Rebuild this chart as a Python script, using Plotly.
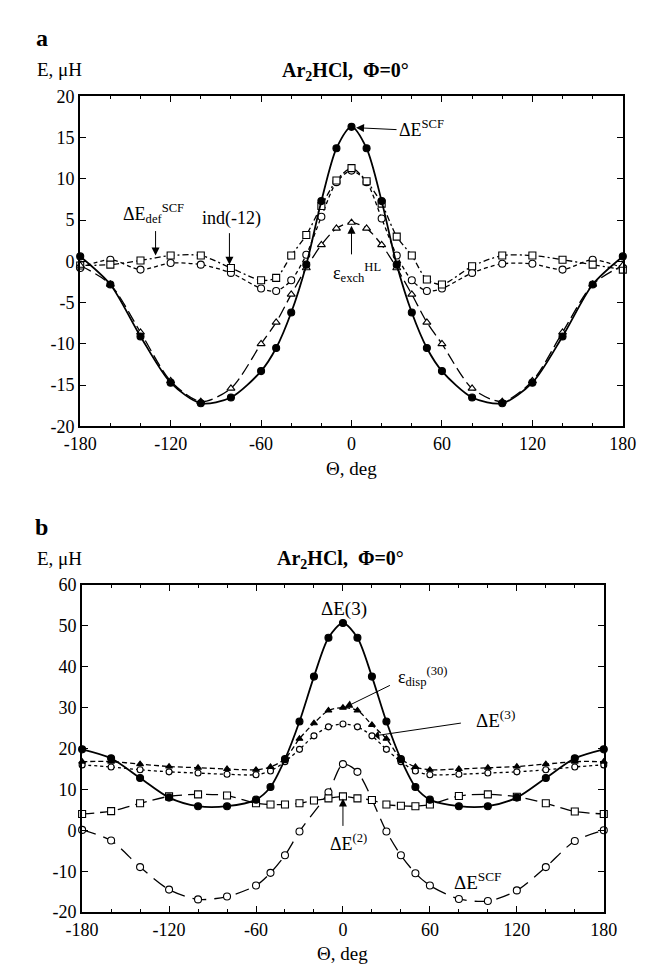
import plotly.graph_objects as go

W, H = 645, 965
FONT = "Liberation Serif"

# ---------------- data: panel a ----------------
theta_a = [-180, -160, -140, -120, -100, -80, -60, -50, -40, -30, -20, -10, 0,
           10, 20, 30, 40, 50, 60, 80, 100, 120, 140, 160, 180]
scf_a = [0.6, -2.8, -9.1, -14.7, -17.2, -16.5, -13.3, -10.5, -6.2, -0.4, 7.3, 13.7, 16.3,
         13.7, 7.3, -0.4, -6.2, -10.5, -13.3, -16.5, -17.2, -14.7, -9.1, -2.8, 0.6]
exch_a = [-0.5, -2.8, -8.6, -14.5, -17.0, -15.4, -10.0, -7.4, -4.0, -0.8, 2.0, 4.0, 4.7,
          4.0, 2.0, -0.8, -4.0, -7.4, -10.0, -15.4, -17.0, -14.5, -8.6, -2.8, -0.5]
def_a = [-0.8, 0.2, -1.0, -0.2, -0.4, -1.4, -3.3, -3.6, -2.3, 0.8, 5.4, 9.6, 11.0,
         9.6, 5.2, 0.7, -2.3, -3.6, -3.3, -1.4, -0.3, -0.3, -1.0, 0.2, -0.8]
ind_a = [-0.5, -0.4, 0.1, 0.7, 0.7, -0.8, -2.3, -2.0, 0.7, 3.2, 6.7, 9.8, 11.3,
         9.7, 7.0, 3.0, 0.7, -2.2, -2.8, -0.6, 0.7, 0.7, 0.2, -0.4, -1.0]

# ---------------- data: panel b ----------------
theta_b = [-180, -160, -140, -120, -100, -80, -60, -50, -40, -30, -20, -10, 0,
           10, 20, 30, 40, 50, 60, 80, 100, 120, 140, 160, 180]
E3_b = [19.8, 17.6, 12.8, 8.0, 5.9, 5.9, 7.5, 10.6, 17.4, 26.6, 37.6, 47.1, 50.7,
        47.1, 37.6, 26.6, 17.4, 10.6, 7.5, 5.9, 5.9, 8.0, 12.8, 17.6, 19.8]
disp_b = [16.8, 16.8, 16.2, 15.6, 15.3, 15.0, 14.8, 15.5, 17.5, 22.4, 26.2, 29.3, 30.0,
          29.3, 25.8, 22.4, 17.5, 15.5, 14.8, 15.0, 15.3, 15.6, 16.2, 16.8, 16.8]
dE3_b = [16.0, 15.5, 14.8, 14.3, 14.0, 13.7, 13.6, 14.5, 16.8, 19.8, 23.1, 25.3, 26.0,
         25.3, 23.1, 19.8, 16.8, 14.5, 13.6, 13.7, 14.0, 14.3, 14.8, 15.5, 16.0]
dE2_b = [4.0, 4.7, 6.6, 8.3, 8.8, 8.5, 6.6, 6.3, 6.3, 6.6, 7.3, 7.8, 8.3,
         7.8, 7.4, 6.3, 6.0, 5.9, 6.3, 8.4, 8.8, 8.2, 6.6, 4.6, 4.0]
theta_scf_b = [-180, -160, -140, -120, -100, -80, -60, -50, -40, -30, -10, 0,
               10, 30, 40, 50, 60, 80, 100, 120, 140, 160, 180]
scf_b = [0.1, -2.5, -9.0, -14.5, -16.9, -16.2, -13.5, -10.4, -6.1, -0.3, 9.3, 16.2,
         14.3, -0.3, -6.1, -10.5, -13.5, -16.8, -17.3, -14.7, -9.0, -2.6, 0.0]

x_ticks = [-180, -120, -60, 0, 60, 120, 180]
ya_ticks = [-20, -15, -10, -5, 0, 5, 10, 15, 20]
yb_ticks = [-20, -10, 0, 10, 20, 30, 40, 50, 60]


def labels(vals):
    return [str(v) for v in vals]  # plain hyphen-minus, as in the reference


fig = go.Figure()


def add(x, y, xa, ya, symbol, filled, dash, width=1.3, size=7):
    fig.add_trace(go.Scatter(
        x=x, y=y, xaxis=xa, yaxis=ya, mode="lines+markers",
        line=dict(color="black", width=width, dash=dash, shape="spline", smoothing=0.8),
        marker=dict(symbol=symbol, size=size,
                    color="black" if filled else "white",
                    line=dict(color="black", width=1.1)),
        showlegend=False, cliponaxis=False))


# panel a
add(theta_a, def_a, "x", "y", "circle", False, "4px,3px")
add(theta_a, ind_a, "x", "y", "square", False, "2px,3px,6px,3px")
add(theta_a, exch_a, "x", "y", "triangle-up", False, "12px,5px")
add(theta_a, scf_a, "x", "y", "circle", True, "solid", width=1.8, size=7)

# panel b
add(theta_scf_b, scf_b, "x2", "y2", "circle", False, "14px,8px")
add(theta_b, dE2_b, "x2", "y2", "square", False, "12px,6px")
add(theta_b, dE3_b, "x2", "y2", "circle", False, "3px,3px", size=6)
add(theta_b, disp_b, "x2", "y2", "triangle-up", True, "5px,3px", size=6)
add(theta_b, E3_b, "x2", "y2", "circle", True, "solid", width=1.8, size=7)

axis_common = dict(showline=True, linecolor="black", linewidth=2, mirror="ticks",
                   ticks="inside", ticklen=6, tickwidth=1, tickcolor="black",
                   showgrid=False, zeroline=False,
                   tickfont=dict(family=FONT, size=18, color="black"))

fig.update_layout(
    width=W, height=H, margin=dict(l=0, r=0, t=0, b=0),
    paper_bgcolor="white", plot_bgcolor="white",
    xaxis=dict(domain=[58 / W, 628 / W], range=[-180, 180], tickvals=x_ticks,
               ticktext=labels(x_ticks), anchor="y",
               minor=dict(ticks="inside", ticklen=3, dtick=20, tickcolor="black"),
               **axis_common),
    yaxis=dict(domain=[1 - 417 / H, 1 - 80 / H], range=[-20, 20], tickvals=ya_ticks,
               ticktext=labels(ya_ticks), anchor="x", **axis_common),
    xaxis2=dict(domain=[60 / W, 608 / W], range=[-180, 180], tickvals=x_ticks,
                ticktext=labels(x_ticks), anchor="y2",
                minor=dict(ticks="inside", ticklen=3, dtick=20, tickcolor="black"),
                **axis_common),
    yaxis2=dict(domain=[1 - 913 / H, 1 - 579 / H], range=[-20, 60], tickvals=yb_ticks,
                ticktext=labels(yb_ticks), anchor="x2", **axis_common),
)


def txt(px, py, text, size=19, bold=False, xanchor="center"):
    if bold:
        text = "<b>" + text + "</b>"
    fig.add_annotation(x=px / W, y=1 - py / H, xref="paper", yref="paper",
                       text=text, showarrow=False, xanchor=xanchor, yanchor="middle",
                       font=dict(family=FONT, size=size, color="black"))


def arrow(x, y, xr, yr, ax, ay, head=2):
    fig.add_annotation(x=x, y=y, xref=xr, yref=yr, ax=ax, ay=ay, text="",
                       showarrow=True, arrowhead=head, arrowsize=1.6, arrowwidth=1,
                       arrowcolor="black")


# panel a texts
txt(9, 20, "a", size=24, bold=True, xanchor="left")
txt(10, 53, "E, μH", size=19, xanchor="left")
txt(337, 55, "Ar<sub>2</sub>HCl,  Φ=0°", size=20, bold=True)
txt(343, 460, "Θ, deg", size=19)
txt(417, 113, "ΔE<sup>SCF</sup>", size=18)
arrow(3, 16.2, "x", "y", 42, 2)
txt(135, 200, "ΔE<sub>def</sub><sup>SCF</sup>", size=18)
arrow(-130, 0.7, "x", "y", 0, -26)
txt(217, 205, "ind(-12)", size=18)
arrow(-81, -0.4, "x", "y", 0, -33)
txt(349, 260, "ε<sub>exch</sub><sup>HL</sup>", size=18)
arrow(0, 4.3, "x", "y", 0, 30)

# panel b texts
txt(8, 520, "b", size=24, bold=True, xanchor="left")
txt(10, 552, "E, μH", size=19, xanchor="left")
txt(331, 553, "Ar<sub>2</sub>HCl,  Φ=0°", size=20, bold=True)
txt(334, 955, "Θ, deg", size=19)
txt(335, 603, "ΔE(3)", size=19)
txt(418, 672, "ε<sub>disp</sub><sup>(30)</sup>", size=18)
arrow(1, 30.0, "x2", "y2", 47, -23)
txt(494, 716, "ΔE<sup>(3)</sup>", size=19)
arrow(21.7, 23.1, "x2", "y2", 88, -13, head=1)
txt(340, 842, "ΔE<sup>(2)</sup>", size=18)
arrow(0, 7.8, "x2", "y2", 0, 29)
txt(476, 881, "ΔE<sup>SCF</sup>", size=19)

fig.write_html("out.html")
